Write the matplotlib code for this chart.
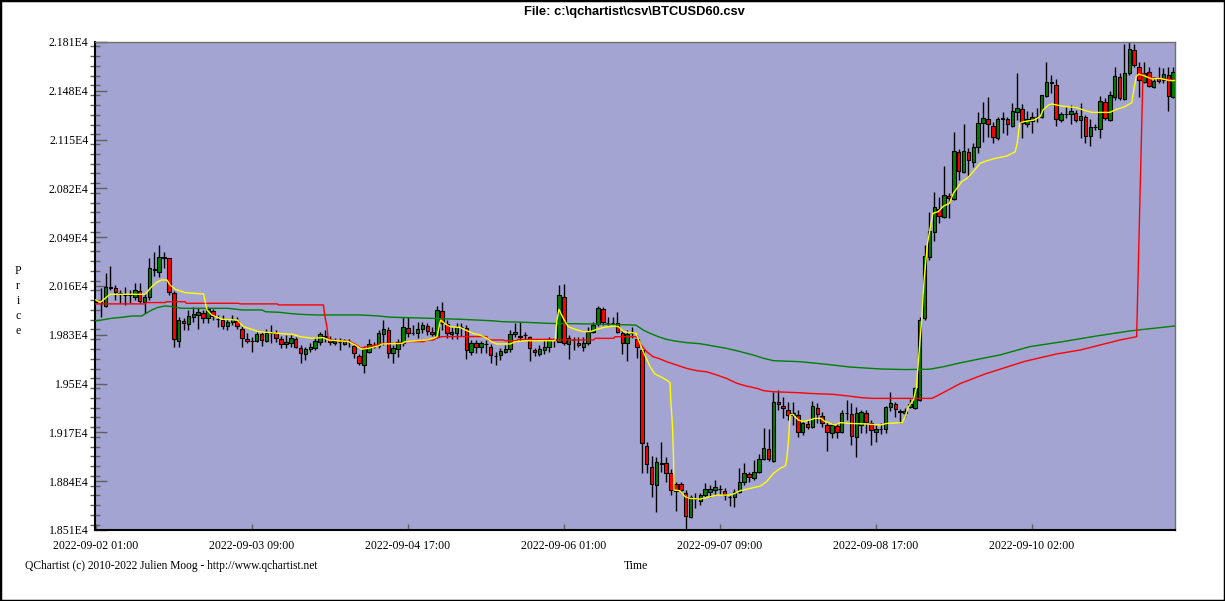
import matplotlib
matplotlib.use("Agg")
import matplotlib.pyplot as plt
from matplotlib.patches import Rectangle
from matplotlib.ticker import MultipleLocator

# hourly BTCUSD candles, index 0 = 2022-09-02 01:00
opens = [
    20055, 20050, 20025, 20148, 20145, 20113, 20101, 20096, 20084, 20124,
    20054, 20084, 20270, 20257, 20352, 20347, 20111, 19791, 19924, 19901,
    19953, 19966, 19975, 19942, 19991, 19940, 19930, 19892, 19915, 19926,
    19870, 19802, 19787, 19786, 19836, 19791, 19844, 19845, 19800, 19766,
    19777, 19799, 19739, 19698, 19732, 19743, 19784, 19817, 19799, 19772,
    19780, 19768, 19784, 19754, 19687, 19624, 19716, 19750, 19754, 19835,
    19863, 19705, 19736, 19772, 19874, 19840, 19840, 19869, 19889, 19849,
    19813, 19989, 19903, 19835, 19844, 19886, 19874, 19716, 19772, 19745,
    19768, 19750, 19687, 19691, 19716, 19732, 19833, 19817, 19830, 19813,
    19727, 19698, 19727, 19745, 19798, 19783, 20088, 19768, 19795, 19777,
    19750, 19772, 19851, 19903, 20002, 19908, 19907, 19907, 19840, 19772,
    19842, 19799, 19727, 19080, 18938, 18812, 18960, 18961, 18893, 18818,
    18818, 18762, 18600, 18720, 18708, 18746, 18769, 18780, 18785, 18771,
    18736, 18731, 18769, 18834, 18886, 18859, 18904, 18988, 19058, 18976,
    19373, 19348, 19321, 19290, 19288, 19171, 19225, 19204, 19333, 19283,
    19220, 19164, 19213, 19175, 19300, 19292, 19137, 19220, 19299, 19232,
    19175, 19191, 19191, 19340, 19360, 19310, 19299, 19345, 19333, 19389,
    19941, 20358, 20527, 20681, 20624, 20768, 20746, 21066, 20933, 21066,
    21001, 21098, 21264, 21289, 21242, 21163, 21292, 21289, 21244, 21339,
    21355, 21253, 21278, 21300, 21300, 21447, 21535, 21519, 21282, 21320,
    21321, 21332, 21282, 21300, 21174, 21233, 21219, 21402, 21282, 21440,
    21571, 21422, 21602, 21756, 21639, 21542, 21605, 21503, 21569, 21553,
    21587, 21440]
highs = [
    20058, 20146, 20246, 20296, 20167, 20133, 20156, 20133, 20178, 20178,
    20111, 20347, 20392, 20438, 20392, 20350, 20129, 19948, 19942, 19998,
    20016, 20009, 19998, 20021, 20003, 19966, 19962, 19939, 19962, 19948,
    19892, 19840, 19818, 19851, 19851, 19867, 19897, 19863, 19822, 19829,
    19829, 19817, 19761, 19750, 19777, 19813, 19851, 19863, 19822, 19806,
    19806, 19799, 19799, 19772, 19700, 19754, 19799, 19784, 19863, 19930,
    19885, 19761, 19799, 19948, 19948, 19896, 19919, 19919, 19912, 19885,
    20025, 20052, 19930, 19885, 19907, 19912, 19896, 19795, 19795, 19790,
    19795, 19768, 19716, 19738, 19761, 19862, 19912, 19919, 19851, 19822,
    19738, 19761, 19795, 19817, 19808, 20167, 20173, 19828, 19817, 19817,
    19817, 19885, 19919, 20025, 20020, 19952, 19952, 19986, 19862, 19862,
    19885, 19828, 19749, 19107, 19010, 19006, 19103, 19006, 18920, 18837,
    18837, 18780, 18746, 18758, 18762, 18830, 18814, 18848, 18814, 18791,
    18746, 18785, 18927, 18965, 18904, 18983, 19024, 19197, 19190, 19445,
    19456, 19411, 19378, 19373, 19321, 19249, 19254, 19382, 19367, 19310,
    19243, 19236, 19232, 19322, 19389, 19367, 19344, 19322, 19322, 19254,
    19220, 19236, 19349, 19445, 19378, 19326, 19333, 19395, 19479, 19950,
    20437, 20663, 20798, 20764, 20971, 20787, 21204, 21084, 21255, 21091,
    21125, 21339, 21406, 21440, 21271, 21305, 21339, 21305, 21395, 21598,
    21391, 21346, 21339, 21361, 21451, 21672, 21587, 21557, 21339, 21373,
    21384, 21350, 21395, 21316, 21287, 21255, 21445, 21429, 21478, 21643,
    21602, 21796, 21812, 21796, 21677, 21677, 21639, 21575, 21643, 21632,
    21643, 21639]
lows = [
    20050, 19950, 20021, 20133, 20066, 20048, 20032, 20048, 20066, 20043,
    19980, 20066, 20230, 20223, 20280, 20099, 19750, 19746, 19863, 19863,
    19919, 19867, 19912, 19908, 19930, 19881, 19867, 19863, 19897, 19867,
    19746, 19773, 19716, 19779, 19757, 19779, 19773, 19784, 19739, 19739,
    19750, 19739, 19642, 19660, 19716, 19727, 19761, 19784, 19761, 19761,
    19727, 19759, 19750, 19671, 19626, 19574, 19705, 19739, 19739, 19761,
    19671, 19642, 19682, 19754, 19817, 19829, 19806, 19840, 19829, 19822,
    19806, 19863, 19806, 19799, 19799, 19822, 19669, 19693, 19705, 19705,
    19705, 19641, 19626, 19660, 19705, 19716, 19817, 19790, 19795, 19655,
    19687, 19687, 19700, 19716, 19745, 19780, 19761, 19664, 19727, 19745,
    19723, 19761, 19840, 19889, 19896, 19896, 19896, 19840, 19700, 19655,
    19806, 19671, 18893, 18893, 18731, 18634, 18904, 18837, 18746, 18641,
    18758, 18512, 18589, 18656, 18679, 18735, 18735, 18746, 18753, 18713,
    18672, 18663, 18758, 18814, 18837, 18848, 18893, 18983, 18979, 18972,
    19321, 19265, 19254, 19220, 19136, 19152, 19191, 19198, 19232, 19209,
    19047, 19130, 19130, 19164, 19254, 19085, 19001, 19164, 19164, 19085,
    19107, 19159, 19164, 19317, 19276, 19232, 19276, 19335, 19326, 19380,
    19930, 20336, 20466, 20584, 20618, 20622, 20741, 20877, 20922, 20899,
    20967, 21057, 21136, 21170, 21125, 21147, 21192, 21181, 21237, 21282,
    21158, 21237, 21192, 21271, 21294, 21440, 21463, 21244, 21271, 21298,
    21253, 21267, 21163, 21129, 21109, 21215, 21163, 21282, 21278, 21418,
    21418, 21418, 21587, 21643, 21440, 21530, 21508, 21496, 21530, 21530,
    21343, 21429]
closes = [
    20053, 20046, 20156, 20153, 20122, 20109, 20099, 20099, 20133, 20061,
    20084, 20280, 20272, 20354, 20356, 20122, 19800, 19930, 19908, 19957,
    19969, 19984, 19946, 20003, 19957, 19938, 19890, 19917, 19935, 19892,
    19811, 19786, 19785, 19838, 19795, 19845, 19846, 19811, 19770, 19781,
    19811, 19750, 19705, 19734, 19745, 19788, 19833, 19819, 19779, 19788,
    19778, 19788, 19782, 19705, 19637, 19732, 19766, 19761, 19844, 19867,
    19709, 19739, 19781, 19880, 19840, 19842, 19867, 19896, 19858, 19833,
    19998, 19912, 19840, 19851, 19885, 19884, 19727, 19772, 19745, 19772,
    19770, 19693, 19689, 19720, 19734, 19833, 19851, 19820, 19828, 19738,
    19711, 19734, 19745, 19799, 19803, 20099, 19772, 19806, 19793, 19759,
    19777, 19851, 19896, 20009, 19914, 19910, 19909, 19851, 19772, 19835,
    19844, 19745, 19096, 18954, 18818, 18972, 18958, 18897, 18780, 18776,
    18780, 18604, 18735, 18722, 18746, 18785, 18785, 18798, 18787, 18746,
    18734, 18769, 18834, 18893, 18866, 18900, 18988, 19062, 18988, 19373,
    19360, 19332, 19287, 19300, 19175, 19236, 19209, 19349, 19292, 19232,
    19171, 19220, 19175, 19299, 19298, 19146, 19299, 19306, 19243, 19186,
    19191, 19193, 19340, 19367, 19326, 19312, 19315, 19365, 19468, 19931,
    20363, 20532, 20696, 20633, 20775, 20753, 21073, 20940, 21073, 21012,
    21102, 21260, 21294, 21253, 21170, 21289, 21294, 21253, 21343, 21361,
    21260, 21287, 21300, 21302, 21449, 21542, 21537, 21287, 21321, 21322,
    21341, 21282, 21309, 21176, 21237, 21235, 21411, 21294, 21451, 21580,
    21429, 21598, 21760, 21654, 21553, 21602, 21512, 21548, 21548, 21591,
    21447, 21605]

# indicator lines (candle index, price)
yellow_x = [0, 0.9, 2.9, 10.1, 11.5, 12.5, 13.5, 14.6, 15.2, 16.3, 18.3, 22.1, 22.8, 23.8, 25.9,
            29, 30.3, 33.4, 38.9, 40.5, 41.9, 44.3, 46.7, 47.7, 51.8, 53.2, 54.6, 56, 58, 58.7,
            62.8, 63.5, 65.2, 67.9, 69.3, 70, 70.7, 71.7, 72.7, 74.8, 76.1, 77.4, 78.8, 80.2,
            81.2, 82.2, 85, 86, 88.4, 94.2, 94.6, 95, 95.9, 96.9, 98.3, 100, 101.4, 102.8, 104.2,
            106.2, 107.2, 108.3, 110.8, 111.6, 112.6, 113.7, 114.7, 116.1, 117.1, 117.8, 117.9,
            118.3, 118.5, 118.6, 119.8, 120.9, 121.9, 123.9, 126, 127.4, 130.1, 131.1, 132.2,
            134.9, 136.3, 137.6, 139, 140.4, 141.5, 141.7, 142.1, 142.4, 142.9, 144.1, 145.1,
            146.5, 147.5, 148.7, 149.6, 151.6, 152.7, 154.4, 158.2, 160.9, 162.3, 165.4, 166.0,
            166.7, 167.7, 168.3, 168.6, 169.4, 169.9, 170.6, 171.1, 171.7, 172.8, 173.9, 175.1,
            175.9, 177.6, 178.7, 179.7, 181.4, 182.8, 184.5, 186.9, 188.6, 189, 189.5, 190.3,
            192.4, 193.7, 194.3, 195.4, 196.1, 198.1, 201.2, 202.6, 204.3, 208, 209.4, 211.1,
            212.5, 212.8, 213.4, 213.9, 215.2, 216.6, 218.3, 219.7, 220.7, 221.4]
yellow_y = [20066, 20048, 20104, 20104, 20156, 20185, 20201, 20201, 20167, 20138, 20115, 20106,
            19998, 19964, 19935, 19930, 19885, 19851, 19836, 19833, 19818, 19807, 19811, 19795,
            19784, 19761, 19732, 19739, 19755, 19768, 19772, 19784, 19788, 19795, 19807, 19818,
            19930, 19903, 19885, 19879, 19858, 19840, 19828, 19806, 19783, 19768, 19768, 19783,
            19790, 19790, 19930, 20002, 19941, 19885, 19867, 19851, 19851, 19867, 19880, 19889,
            19885, 19851, 19840, 19772, 19693, 19614, 19565, 19542, 19524, 19506, 19411, 19209,
            19006, 18780, 18776, 18735, 18724, 18719, 18735, 18746, 18746, 18758, 18776, 18796,
            18807, 18837, 18893, 18927, 18945, 18983, 19118, 19287, 19294, 19254, 19243, 19254,
            19265, 19265, 19243, 19220, 19236, 19231, 19227, 19220, 19231, 19236, 19276, 19344,
            19389, 19468, 19592, 19930, 20201, 20448, 20539, 20651, 20663, 20701, 20719, 20787,
            20865, 20888, 20922, 20990, 21007, 21023, 21039, 21068, 21125, 21260, 21271, 21282,
            21305, 21350, 21384, 21391, 21377, 21366, 21350, 21334, 21334, 21355, 21373, 21400,
            21463, 21575, 21593, 21580, 21560, 21564, 21553, 21548, 21550]

red_x = [-0.2, 10.1, 10.4, 14.2, 14.5, 18.3, 18.6, 29.3, 29.6, 37.2, 37.5, 46.7, 46.9, 47.4,
         47.7, 52, 53.5, 54.5, 55.6, 57.7, 58.7, 63.1, 63.8, 67.3, 67.9, 69.3, 70, 71.4, 80.2,
         80.5, 83.6, 83.9, 86.3, 86.6, 93.9, 94.2, 102.1, 102.4, 106.2, 106.5, 111, 111.6, 113,
         114.3, 115.4, 117.1, 119.1, 121.2, 123.3, 125.3, 127.4, 129.4, 131.5, 133.5, 135.6,
         137, 139, 144.5, 146.2, 151.3, 154.4, 157.1, 159.2, 171.5, 172.9, 177.3, 182.4,
         190.5, 197, 201.9, 210.1, 213.5, 214.8, 215.5, 217.6, 221.4]
red_y = [20039, 20039, 20048, 20048, 20054, 20054, 20043, 20043, 20039, 20039, 20032, 20032,
         19975, 19885, 19795, 19786, 19760, 19739, 19750, 19761, 19772, 19772, 19784, 19784,
         19795, 19795, 19813, 19818, 19818, 19795, 19795, 19790, 19790, 19799, 19799, 19795,
         19795, 19806, 19806, 19817, 19817, 19772, 19716, 19682, 19671, 19648, 19626, 19603,
         19587, 19580, 19558, 19535, 19502, 19483, 19468, 19452, 19445, 19438, 19434, 19427,
         19416, 19405, 19400, 19400, 19423, 19500, 19565, 19650, 19700, 19727, 19795, 19817,
         21598, 21570, 21564, 21553]

green_x = [-0.2, 1.2, 3.3, 5.3, 7.4, 9.4, 10.1, 11.5, 12.8, 14.2, 15.6, 17.6, 27.2, 30, 34.1,
           34.8, 37.8, 39.5, 41.6, 45.3, 54.2, 57.7, 60.4, 68.3, 74.7, 78.1, 81.2, 83.3, 88.4,
           93.2, 102.1, 108.3, 110.8, 112.3, 113.7, 115.4, 117.1, 118.8, 121.2, 123.9, 126.7,
           129.4, 131.5, 134.9, 137, 139, 144.5, 150, 154.7, 160.9, 166, 171, 174, 177.3, 181,
           185.5, 191.6, 198.4, 205.3, 212.1, 221.4]
green_y = [19924, 19930, 19942, 19948, 19957, 19957, 19971, 19998, 20016, 20025, 20021, 20009,
           20009, 19998, 19998, 19986, 19982, 19975, 19969, 19964, 19964, 19958, 19949, 19942,
           19935, 19930, 19925, 19919, 19914, 19907, 19903, 19898, 19895, 19862, 19840, 19817,
           19799, 19788, 19777, 19770, 19754, 19738, 19722, 19693, 19671, 19655, 19648, 19630,
           19612, 19599, 19595, 19597, 19615, 19640, 19665, 19694, 19750, 19784, 19822, 19856,
           19890]

tick_idx = [0, 32, 64, 96, 128, 160, 192]
tick_text = ["2022-09-02 01:00", "2022-09-03 09:00", "2022-09-04 17:00", "2022-09-06 01:00",
             "2022-09-07 09:00", "2022-09-08 17:00", "2022-09-10 02:00"]
ytick_vals = [18510, 18840, 19170, 19500, 19830, 20160, 20490, 20820, 21150, 21480, 21810]
ytick_text = ["1.851E4", "1.884E4", "1.917E4", "1.95E4", "1.983E4", "2.016E4", "2.049E4",
              "2.082E4", "2.115E4", "2.148E4", "2.181E4"]

serif = "Liberation Serif"

fig = plt.figure(figsize=(12.25, 6.01), dpi=100)
ax = fig.add_axes([95 / 1225, 1 - 530 / 601, 1080 / 1225, 488 / 601])
ax.set_facecolor("#a3a4d2")

# candles
for i in range(len(opens)):
    o, h, l, c = opens[i], highs[i], lows[i], closes[i]
    col = "#008000" if c > o else "#ff0000"
    ax.vlines(i, l, h, color="black", linewidth=1, zorder=2)
    ax.bar(i, max(abs(c - o), 1), bottom=min(o, c), width=0.72, color=col,
           edgecolor="black", linewidth=0.8, zorder=3)

ax.plot(green_x, green_y, color="#008000", linewidth=1, zorder=4)
ax.plot(red_x, red_y, color="#ff0000", linewidth=1, zorder=4)
ax.plot(yellow_x, yellow_y, color="#ffff00", linewidth=1, zorder=5)

ax.set_xlim(-0.16, 221.37)
ax.set_ylim(18510, 21810)

ax.set_xticks(tick_idx)
ax.set_xticklabels(tick_text, family=serif, fontsize=8.5)
ax.set_yticks(ytick_vals)
ax.set_yticklabels(ytick_text, family=serif, fontsize=8.5)
ax.yaxis.set_minor_locator(MultipleLocator(66))
ax.yaxis.remove_overlapping_locs = False
ax.tick_params(axis="y", which="major", direction="in", length=8.6, width=1,
               color="#606060", pad=4.8)
ax.tick_params(axis="y", which="minor", direction="inout", length=7, width=1, color="#606060")
ax.tick_params(axis="x", which="major", direction="in", length=4.5, width=1,
               color="#606060", pad=7)

for s in ["left", "bottom"]:
    ax.spines[s].set_color("black")
    ax.spines[s].set_linewidth(1.5)
for s in ["top", "right"]:
    ax.spines[s].set_color("#707070")
    ax.spines[s].set_linewidth(1)

fig.text(634 / 1225, 1 - 12 / 601, r"File: c:\qchartist\csv\BTCUSD60.csv",
         ha="center", va="center", family="Liberation Sans", fontweight="bold", fontsize=9.3)
fig.text(18 / 1225, 1 - 301 / 601, "P\nr\ni\nc\ne", ha="center", va="center",
         family=serif, fontsize=8.5, linespacing=1.35)
fig.text(636 / 1225, 1 - 566 / 601, "Time", ha="center", va="center", family=serif, fontsize=8.5)
fig.text(25 / 1225, 1 - 566 / 601, "QChartist (c) 2010-2022 Julien Moog - http://www.qchartist.net",
         ha="left", va="center", family=serif, fontsize=8.3)

fig.patches.append(Rectangle((0, 0), 1, 1, transform=fig.transFigure, fill=False,
                             edgecolor="black", linewidth=2.5))

fig.savefig("out.png", dpi=100)
